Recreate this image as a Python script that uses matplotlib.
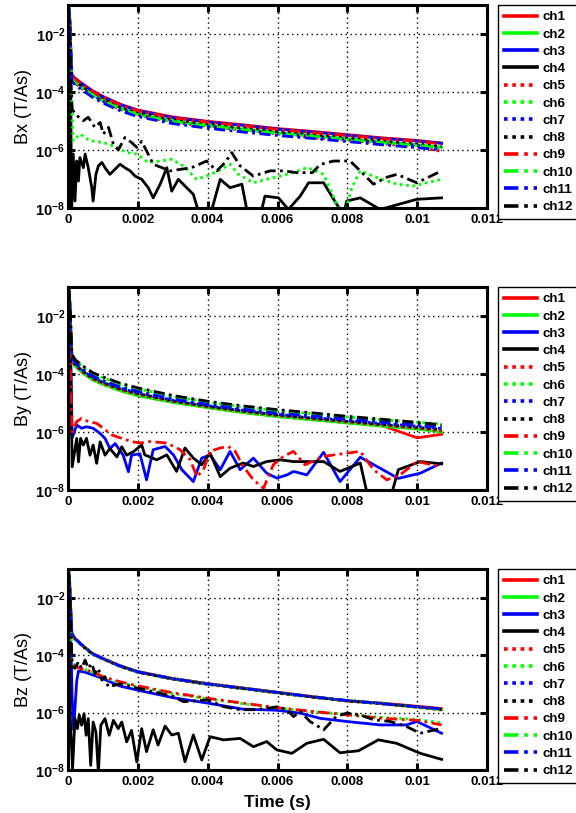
import matplotlib.pyplot as plt
import numpy as np

plt.rcParams["font.family"] = ["Liberation Sans", "DejaVu Sans"]
plt.rcParams["mathtext.fontset"] = "custom"
plt.rcParams["mathtext.rm"] = "Liberation Sans"
plt.rcParams["mathtext.bf"] = "Liberation Sans:bold"

# time in ms, field values as log10(B / (T/As))
T_SMOOTH = [0.02, 0.05, 0.08, 0.11, 0.2, 0.4, 0.7, 1.0, 1.5, 2.0, 3.0, 4.0,
            5.0, 6.0, 7.0, 8.0, 9.0, 10.0, 10.7]

# ---- Bx ----
BX_CH1 = [-1.1, -1.5, -2.6, -3.40, -3.52, -3.70, -3.95, -4.15, -4.42, -4.62,
          -4.86, -5.01, -5.13, -5.26, -5.36, -5.47, -5.58, -5.67, -5.76]
BX_CH2 = [-1.1, -1.5, -2.6, -3.52, -3.64, -3.82, -4.07, -4.27, -4.55, -4.75,
          -4.99, -5.14, -5.27, -5.40, -5.50, -5.61, -5.72, -5.82, -5.90]
BX_CH3 = [-1.05, -1.45, -2.5, -3.42, -3.54, -3.72, -3.97, -4.17, -4.44, -4.64,
          -4.88, -5.03, -5.15, -5.28, -5.38, -5.49, -5.60, -5.69, -5.77]
BX_CH5 = [-1.15, -1.6, -2.7, -3.58, -3.70, -3.88, -4.13, -4.33, -4.60, -4.80,
          -5.04, -5.19, -5.31, -5.44, -5.58, -5.66, -5.78, -5.90, -6.05]
BX_CH7 = [-1.1, -1.55, -2.6, -3.55, -3.68, -3.86, -4.11, -4.31, -4.58, -4.78,
          -5.02, -5.17, -5.30, -5.42, -5.52, -5.63, -5.74, -5.84, -5.95]
BX_CH8 = [-1.2, -1.6, -2.7, -3.50, -3.62, -3.80, -4.05, -4.25, -4.53, -4.72,
          -4.96, -5.11, -5.24, -5.37, -5.47, -5.58, -5.69, -5.79, -5.88]
BX_CH9 = [-1.1, -1.6, -2.6, -3.43, -3.55, -3.73, -3.98, -4.18, -4.45, -4.65,
          -4.89, -5.04, -5.16, -5.29, -5.40, -5.50, -5.61, -5.70, -5.79]
BX_CH10 = [-1.1, -1.55, -2.7, -3.55, -3.67, -3.85, -4.10, -4.30, -4.58, -4.78,
           -5.02, -5.17, -5.30, -5.43, -5.53, -5.64, -5.75, -5.85, -5.93]
BX_CH11 = [-1.05, -1.5, -2.6, -3.62, -3.75, -3.93, -4.18, -4.38, -4.65, -4.85,
           -5.09, -5.25, -5.38, -5.50, -5.60, -5.71, -5.82, -5.92, -6.00]

BX_CH4_T = [0.02, 0.05, 0.08, 0.1, 0.15, 0.2, 0.25, 0.3, 0.34, 0.44, 0.49,
            0.58, 0.68, 0.72, 0.8, 0.87, 0.97, 1.06, 1.2, 1.35, 1.49, 1.63,
            1.78, 1.92, 2.11, 2.3, 2.44, 2.64, 2.83, 2.97, 3.16, 3.59, 3.73,
            4.12, 4.36, 4.64, 4.98, 5.12, 5.55, 5.64, 6.03, 6.31, 6.65, 6.89,
            7.32, 7.7, 7.9, 7.98, 8.37, 8.94, 9.99, 10.7]
BX_CH4 = [-1.5, -2.5, -4.0, -8.3, -6.14, -7.76, -6.38, -7.07, -6.26, -6.61,
          -6.14, -6.61, -7.3, -7.76, -6.84, -6.55, -6.43, -6.61, -6.84, -6.66,
          -6.49, -6.61, -6.72, -6.9, -7.01, -7.3, -7.65, -7.18, -6.61, -7.42,
          -7.01, -7.53, -8.1, -8.05, -7.01, -7.3, -7.18, -8.05, -8.05, -7.59,
          -7.65, -8.05, -7.59, -7.13, -7.13, -7.88, -8.2, -7.76, -7.65, -8.05,
          -7.7, -7.65]
BX_CH6_T = [0.02, 0.05, 0.08, 0.15, 0.34, 0.63, 1.01, 1.4, 1.68, 1.97, 2.3,
            2.64, 2.97, 3.3, 3.69, 3.97, 4.31, 4.64, 4.88, 5.31, 5.69, 6.07,
            6.46, 6.85, 7.32, 7.7, 7.9, 8.13, 8.37, 8.85, 9.42, 9.9, 10.7]
BX_CH6 = [-1.2, -2.0, -3.5, -5.68, -5.45, -5.68, -5.74, -5.91, -6.09, -6.14,
          -6.43, -6.38, -6.32, -6.55, -7.01, -6.9, -6.72, -6.49, -6.84, -7.13,
          -7.01, -6.9, -6.78, -6.6, -6.84, -7.88, -8.3, -7.3, -6.72, -6.95,
          -7.18, -7.24, -7.01]
BX_CH12_T = [0.02, 0.05, 0.08, 0.12, 0.25, 0.44, 0.58, 0.77, 0.92, 1.01, 1.16,
             1.30, 1.44, 1.63, 1.82, 1.97, 2.11, 2.25, 2.44, 2.92, 3.54, 3.97,
             4.26, 4.5, 4.69, 4.93, 5.31, 5.79, 6.17, 6.55, 7.0, 7.22, 7.6,
             8.08, 8.37, 8.75, 9.1, 9.42, 9.99, 10.7]
BX_CH12 = [-1.2, -2.2, -3.5, -4.6, -4.81, -4.99, -4.87, -5.22, -5.05, -5.45,
           -5.22, -5.80, -6.0, -5.57, -5.74, -5.91, -5.7, -6.03, -6.49, -6.72,
           -6.61, -6.38, -6.72, -6.43, -6.09, -6.55, -6.9, -6.72, -6.72, -6.78,
           -6.78, -6.5, -6.38, -6.38, -6.72, -7.18, -6.95, -6.84, -7.13, -6.72]

# ---- By ----
BY_CH1 = [-1.2, -1.6, -2.8, -3.52, -3.72, -3.94, -4.19, -4.35, -4.57, -4.74,
          -4.97, -5.15, -5.32, -5.46, -5.57, -5.68, -5.78, -6.2, -6.08]
BY_CH2 = [-1.1, -1.5, -2.6, -3.53, -3.73, -3.95, -4.2, -4.36, -4.58, -4.75,
          -4.98, -5.16, -5.33, -5.47, -5.58, -5.69, -5.8, -5.9, -6.0]
BY_CH5 = [-1.2, -1.6, -2.6, -3.5, -3.7, -3.92, -4.17, -4.33, -4.55, -4.71,
          -4.95, -5.13, -5.3, -5.44, -5.55, -5.66, -5.77, -5.87, -5.97]
BY_CH6 = [-1.1, -1.5, -2.4, -3.35, -3.52, -3.73, -3.98, -4.13, -4.35, -4.51,
          -4.77, -4.97, -5.13, -5.26, -5.37, -5.48, -5.58, -5.66, -5.72]
BY_CH7 = [-1.1, -1.5, -2.5, -3.42, -3.63, -3.86, -4.11, -4.27, -4.49, -4.65,
          -4.9, -5.09, -5.25, -5.39, -5.5, -5.6, -5.71, -5.8, -5.88]
BY_CH8 = [-1.0, -1.4, -2.4, -3.45, -3.66, -3.88, -4.13, -4.29, -4.51, -4.67,
          -4.92, -5.11, -5.27, -5.41, -5.52, -5.63, -5.74, -5.84, -5.92]
BY_CH10 = [-1.1, -1.5, -2.5, -3.38, -3.58, -3.8, -4.05, -4.21, -4.43, -4.58,
           -4.84, -5.03, -5.19, -5.32, -5.43, -5.53, -5.63, -5.72, -5.78]
BY_CH11 = [-1.1, -1.5, -2.5, -3.4, -3.6, -3.82, -4.07, -4.23, -4.45, -4.6,
           -4.86, -5.05, -5.21, -5.35, -5.45, -5.55, -5.66, -5.76, -5.84]
BY_CH12 = [-1.0, -1.4, -2.3, -3.3, -3.5, -3.7, -3.95, -4.1, -4.32, -4.48,
           -4.74, -4.94, -5.1, -5.23, -5.34, -5.46, -5.56, -5.67, -5.75]

BY_CH3_T = [0.02, 0.05, 0.08, 0.12, 0.25, 0.39, 0.53, 0.72, 0.92, 1.06, 1.2,
            1.35, 1.58, 1.73, 1.82, 2.06, 2.25, 2.44, 2.78, 3.02, 3.26, 3.59,
            3.83, 4.07, 4.36, 4.64, 4.93, 5.31, 5.69, 5.98, 6.27, 6.46, 6.84,
            7.32, 7.79, 8.37, 8.94, 9.46, 10.09, 10.7]
BY_CH3 = [-1.2, -2.0, -3.5, -6.2, -5.76, -5.87, -5.82, -5.87, -6.05, -6.22,
          -6.57, -6.4, -6.8, -7.37, -6.8, -6.75, -7.65, -6.61, -6.5, -6.79,
          -7.3, -7.71, -6.9, -6.79, -7.3, -6.67, -7.3, -6.9, -7.42, -7.59,
          -7.48, -7.36, -7.48, -6.7, -7.71, -6.87, -7.25, -7.6, -7.42, -7.07]
BY_CH4_T = [0.02, 0.05, 0.08, 0.12, 0.25, 0.3, 0.36, 0.44, 0.53, 0.63, 0.72,
            0.82, 0.92, 1.06, 1.2, 1.4, 1.54, 1.68, 1.87, 2.11, 2.2, 2.54,
            2.83, 3.11, 3.35, 3.59, 3.83, 4.07, 4.36, 4.64, 5.02, 5.31, 5.69,
            6.07, 6.46, 7.32, 7.79, 8.37, 8.6, 8.9, 9.23, 9.46, 10.09, 10.7]
BY_CH4 = [-1.4, -2.3, -4.0, -7.2, -6.22, -7.03, -6.22, -6.45, -6.22, -6.8,
          -6.45, -7.08, -6.34, -6.8, -6.57, -6.86, -6.51, -6.8, -6.68, -6.45,
          -6.79, -6.96, -6.79, -7.36, -6.55, -6.9, -7.13, -6.73, -7.54, -7.25,
          -7.07, -7.19, -7.02, -6.96, -7.02, -7.02, -7.36, -7.07, -8.3, -8.3,
          -8.3, -7.3, -7.02, -7.1]
BY_CH9_T = [0.02, 0.05, 0.08, 0.12, 0.25, 0.39, 0.58, 0.82, 1.01, 1.25, 1.54,
            1.82, 2.06, 2.35, 2.83, 3.21, 3.5, 3.69, 3.88, 4.07, 4.36, 4.59,
            4.79, 5.02, 5.31, 5.6, 5.88, 6.17, 6.46, 6.79, 7.32, 7.98, 8.37,
            8.75, 9.13, 9.51, 9.99, 10.7]
BY_CH9 = [-1.5, -3.0, -4.5, -6.0, -5.64, -5.53, -5.64, -5.7, -5.87, -6.1,
          -6.22, -6.33, -6.38, -6.33, -6.38, -6.61, -6.96, -7.54, -7.3, -6.67,
          -6.55, -6.5, -6.67, -7.19, -7.65, -7.94, -7.13, -6.84, -6.67, -7.13,
          -6.84, -6.73, -6.67, -7.3, -7.65, -7.48, -7.02, -7.19]

# ---- Bz ----
BZ_CH1 = [-1.1, -1.6, -2.5, -3.24, -3.41, -3.64, -3.94, -4.11, -4.37, -4.57,
          -4.81, -4.99, -5.14, -5.29, -5.44, -5.6, -5.67, -5.78, -5.86]
BZ_CH2 = [-1.1, -1.6, -2.5, -3.26, -3.43, -3.66, -3.96, -4.13, -4.39, -4.59,
          -4.83, -5.01, -5.16, -5.31, -5.46, -5.59, -5.69, -5.81, -5.9]
BZ_CH5 = [-1.2, -1.7, -2.6, -3.27, -3.44, -3.67, -3.97, -4.14, -4.4, -4.6,
          -4.84, -5.02, -5.17, -5.32, -5.47, -5.6, -5.7, -5.82, -5.91]
BZ_CH6 = [-1.2, -1.7, -2.9, -4.2, -4.35, -4.46, -4.6, -4.78, -4.96, -5.1,
          -5.34, -5.52, -5.69, -5.84, -5.97, -6.06, -6.17, -6.24, -6.36]
BZ_CH7 = [-1.1, -1.6, -2.5, -3.25, -3.42, -3.65, -3.95, -4.12, -4.38, -4.58,
          -4.82, -5.0, -5.15, -5.3, -5.45, -5.58, -5.68, -5.8, -5.88]
BZ_CH8 = [-1.0, -1.5, -2.4, -3.26, -3.43, -3.66, -3.96, -4.13, -4.39, -4.59,
          -4.83, -5.01, -5.16, -5.31, -5.46, -5.59, -5.69, -5.8, -5.89]
BZ_CH9 = [-1.2, -1.8, -3.0, -4.3, -4.4, -4.48, -4.58, -4.75, -4.93, -5.07,
          -5.31, -5.5, -5.67, -5.83, -5.96, -6.08, -6.2, -6.27, -6.43]
BZ_CH10 = [-1.1, -1.6, -2.5, -3.25, -3.43, -3.66, -3.96, -4.13, -4.38, -4.58,
           -4.82, -5.0, -5.15, -5.3, -5.45, -5.58, -5.68, -5.81, -5.89]
BZ_CH11 = [-1.1, -1.6, -2.5, -3.24, -3.42, -3.65, -3.95, -4.12, -4.38, -4.58,
           -4.82, -5.0, -5.15, -5.3, -5.45, -5.58, -5.69, -5.8, -5.87]

BZ_CH3_T = [0.02, 0.05, 0.08, 0.12, 0.16, 0.25, 0.3, 0.5, 0.92, 1.5, 2.0, 3.0,
            4.0, 5.0, 6.0, 6.65, 7.22, 7.98, 8.94, 9.7, 9.99, 10.7]
BZ_CH3 = [-1.2, -1.8, -3.5, -5.5, -6.6, -4.9, -4.55, -4.6, -4.78, -5.08, -5.22,
          -5.48, -5.67, -5.88, -5.92, -6.02, -6.2, -6.31, -6.43, -6.43, -6.31,
          -6.72]
BZ_CH4_T = [0.02, 0.04, 0.06, 0.13, 0.2, 0.27, 0.32, 0.39, 0.46, 0.52, 0.58,
            0.65, 0.72, 0.8, 0.87, 0.94, 1.06, 1.18, 1.3, 1.44, 1.54, 1.68,
            1.82, 1.97, 2.11, 2.25, 2.44, 2.58, 2.78, 2.97, 3.16, 3.35, 3.59,
            3.83, 4.07, 4.45, 4.93, 5.31, 5.69, 5.98, 6.41, 6.84, 7.32, 7.79,
            8.32, 8.89, 9.41, 10.09, 10.7]
BZ_CH4 = [-1.2, -3.0, -6.04, -7.96, -6.21, -6.56, -6.09, -6.44, -6.04, -6.79,
          -6.21, -7.84, -6.33, -6.68, -8.1, -6.44, -6.21, -6.79, -6.27, -6.56,
          -6.33, -7.02, -6.62, -7.72, -6.56, -7.36, -6.6, -7.13, -6.47, -6.78,
          -6.72, -7.71, -6.78, -7.65, -6.84, -6.95, -6.9, -7.19, -7.01, -7.3,
          -7.42, -7.07, -6.93, -7.4, -7.33, -6.95, -7.07, -7.42, -7.63]
BZ_CH12_T = [0.02, 0.05, 0.08, 0.12, 0.2, 0.3, 0.39, 0.49, 0.58, 0.68, 0.77,
             0.87, 0.97, 1.06, 1.15, 1.5, 2.0, 2.44, 3.02, 3.3, 4.0, 4.45,
             4.93, 5.4, 6.0, 6.27, 6.46, 6.65, 6.93, 7.32, 7.68, 7.98, 8.37,
             8.75, 9.23, 9.7, 10.09, 10.7]
BZ_CH12 = [-1.2, -1.8, -3.0, -4.4, -4.46, -4.23, -4.46, -4.17, -4.46, -4.29,
           -4.64, -4.46, -4.87, -4.75, -5.1, -5.0, -5.15, -5.27, -5.44, -5.62,
           -5.56, -5.79, -5.9, -5.9, -5.8, -5.9, -6.14, -5.96, -6.31, -6.6,
           -6.14, -6.02, -6.08, -6.25, -6.31, -6.49, -6.72, -6.55]

CHANNELS = ["ch%d" % i for i in range(1, 13)]
X_TICKS = [0, 0.002, 0.004, 0.006, 0.008, 0.010, 0.012]
X_TICK_LABELS = ["0", "0.002", "0.004", "0.006", "0.008", "0.01", "0.012"]
Y_TICKS = [1e-8, 1e-6, 1e-4, 1e-2]
Y_TICK_LABELS = [r"$\mathbf{10^{-8}}$", r"$\mathbf{10^{-6}}$",
                 r"$\mathbf{10^{-4}}$", r"$\mathbf{10^{-2}}$"]

COLORS = ["#ff0000", "#00ff00", "#0000ff", "#000000"] * 3
DOT = (0, (1, 1.3))
DASHDOT = (0, (4, 1.6, 1, 1.6))
STYLES = ["-"] * 4 + [DOT] * 4 + [DASHDOT] * 4

panels = [
    ("Bx (T/As)", [
        (T_SMOOTH, BX_CH1), (T_SMOOTH, BX_CH2), (T_SMOOTH, BX_CH3),
        (BX_CH4_T, BX_CH4), (T_SMOOTH, BX_CH5), (BX_CH6_T, BX_CH6),
        (T_SMOOTH, BX_CH7), (T_SMOOTH, BX_CH8), (T_SMOOTH, BX_CH9),
        (T_SMOOTH, BX_CH10), (T_SMOOTH, BX_CH11), (BX_CH12_T, BX_CH12)]),
    ("By (T/As)", [
        (T_SMOOTH, BY_CH1), (T_SMOOTH, BY_CH2), (BY_CH3_T, BY_CH3),
        (BY_CH4_T, BY_CH4), (T_SMOOTH, BY_CH5), (T_SMOOTH, BY_CH6),
        (T_SMOOTH, BY_CH7), (T_SMOOTH, BY_CH8), (BY_CH9_T, BY_CH9),
        (T_SMOOTH, BY_CH10), (T_SMOOTH, BY_CH11), (T_SMOOTH, BY_CH12)]),
    ("Bz (T/As)", [
        (T_SMOOTH, BZ_CH1), (T_SMOOTH, BZ_CH2), (BZ_CH3_T, BZ_CH3),
        (BZ_CH4_T, BZ_CH4), (T_SMOOTH, BZ_CH5), (T_SMOOTH, BZ_CH6),
        (T_SMOOTH, BZ_CH7), (T_SMOOTH, BZ_CH8), (T_SMOOTH, BZ_CH9),
        (T_SMOOTH, BZ_CH10), (T_SMOOTH, BZ_CH11), (BZ_CH12_T, BZ_CH12)]),
]

W, H = 576, 813
fig = plt.figure(figsize=(W / 100, H / 100), dpi=100)

# axes boxes in pixels: (left, top, right, bottom)
boxes = [(68, 5, 487, 208), (68, 287, 487, 490), (68, 569, 487, 770)]

for (ylabel, series), (l, t, r, b) in zip(panels, boxes):
    ax = fig.add_axes([l / W, 1 - b / H, (r - l) / W, (b - t) / H])
    for i, (tt, vv) in enumerate(series):
        ax.plot(np.array(tt) * 1e-3, 10.0 ** np.array(vv), color=COLORS[i],
                linestyle=STYLES[i], linewidth=2.0, label=CHANNELS[i])

    ax.set_yscale("log")
    ax.set_xlim(0, 0.012)
    ax.set_ylim(1e-8, 1e-1)
    ax.set_xticks(X_TICKS)
    ax.set_xticklabels(X_TICK_LABELS, fontweight="bold", fontsize=9.5)
    ax.set_yticks(Y_TICKS)
    ax.set_yticklabels(Y_TICK_LABELS, fontsize=10.5)
    ax.yaxis.set_minor_locator(plt.NullLocator())
    ax.tick_params(direction="in", length=5, width=2.2, top=True, right=True,
                   pad=4)
    ax.tick_params(axis="y", pad=2)
    ax.grid(True, color="black", linestyle=(0, (1, 2.5)), linewidth=1)
    for sp in ax.spines.values():
        sp.set_linewidth(2.2)
    ax.set_ylabel(ylabel, fontsize=13)
    ax.yaxis.set_label_coords((32 - l) / (r - l), 0.5)

    leg = ax.legend(loc="upper left", bbox_to_anchor=((498 - l) / (r - l), 1.0),
                    borderaxespad=0, fancybox=False, framealpha=1,
                    edgecolor="black", handlelength=2.5, handletextpad=0.38,
                    labelspacing=0.37, borderpad=0.45,
                    prop={"weight": "bold", "size": 9.6})
    leg.get_frame().set_linewidth(1)
    for line in leg.get_lines():
        line.set_linewidth(2.6)

ax.set_xlabel("Time (s)", fontsize=12.5, fontweight="bold", labelpad=5)

fig.savefig("out.png", dpi=100)
